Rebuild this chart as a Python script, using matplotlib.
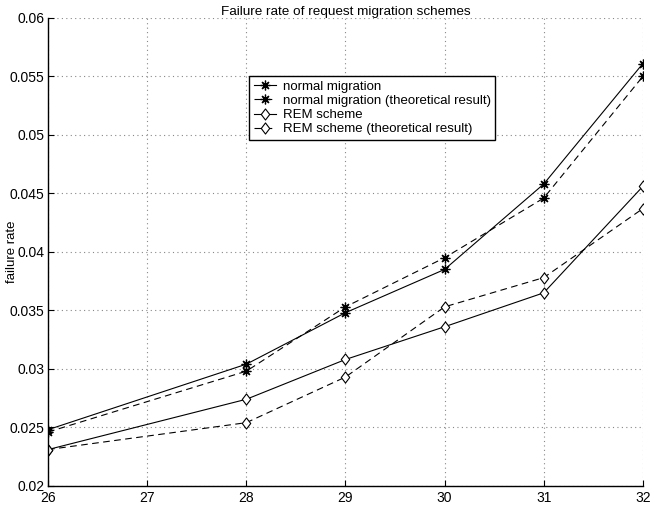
import matplotlib
matplotlib.use("Agg")
import matplotlib.pyplot as plt
from matplotlib.path import Path

plt.rcParams['font.family'] = ['Liberation Sans', 'DejaVu Sans']

x = [26, 28, 29, 30, 31, 32]
normal = [0.0248, 0.0304, 0.0348, 0.0385, 0.0458, 0.0561]
normal_theory = [0.0246, 0.0298, 0.0353, 0.0395, 0.0446, 0.0550]
rem = [0.0231, 0.0274, 0.0308, 0.0336, 0.0365, 0.0456]
rem_theory = [0.0231, 0.0254, 0.0293, 0.0353, 0.0378, 0.0437]

xticks = [26, 27, 28, 29, 30, 31, 32]
yticks = [0.02, 0.025, 0.03, 0.035, 0.04, 0.045, 0.05, 0.055, 0.06]
ytick_labels = ['0.02', '0.025', '0.03', '0.035', '0.04', '0.045', '0.05', '0.055', '0.06']

title = 'Failure rate of request migration schemes'
ylabel = 'failure rate'
labels = ['normal migration', 'normal migration (theoretical result)',
          'REM scheme', 'REM scheme (theoretical result)']

fig = plt.figure(figsize=(6.5, 5.13), dpi=100)
ax = fig.add_axes([0.074, 0.053, 0.915, 0.912])

star = (8, 2, 0)
diamond = Path([(0, 1), (0.76, 0), (0, -1), (-0.76, 0), (0, 1)],
               [Path.MOVETO, Path.LINETO, Path.LINETO, Path.LINETO, Path.CLOSEPOLY])
dash = (0, (6, 4))
lw = 0.8
ax.plot(x, normal, color='black', lw=lw, marker=star, ms=7, mew=0.9, label=labels[0])
ax.plot(x, normal_theory, color='black', lw=lw, ls=dash, marker=star, ms=7, mew=0.9, label=labels[1])
ax.plot(x, rem, color='black', lw=lw, marker=diamond, ms=8, mfc='white', mew=0.8, label=labels[2])
ax.plot(x, rem_theory, color='black', lw=lw, ls=dash, marker=diamond, ms=8, mfc='white', mew=0.8, label=labels[3])

ax.set_xlim(26, 32)
ax.set_ylim(0.02, 0.06)
ax.set_xticks(xticks)
ax.set_xticklabels([str(t) for t in xticks], fontsize=10)
ax.set_yticks(yticks)
ax.set_yticklabels(ytick_labels, fontsize=10)
ax.tick_params(direction='in', length=4, width=0.8, pad=2.5)
ax.tick_params(axis='x', pad=3.5)
ax.grid(True, color='#888888', ls=(0, (1, 3)), lw=0.8)
ax.spines['top'].set_visible(False)
ax.spines['right'].set_visible(False)
ax.spines['left'].set_linewidth(1.0)
ax.spines['bottom'].set_linewidth(1.0)

ax.set_title(title, fontsize=9.7, pad=1)
ax.set_ylabel(ylabel, fontsize=9.5)
ax.yaxis.set_label_coords(-0.05, 0.5)

leg = ax.legend(loc='upper left', bbox_to_anchor=(0.338, 0.876), fontsize=9.5,
                frameon=True, fancybox=False, edgecolor='black', framealpha=1,
                borderpad=0.35, labelspacing=0.15, handlelength=1.7, handletextpad=0.5,
                borderaxespad=0)
leg.get_frame().set_linewidth(1.0)

fig.savefig('out.png', dpi=100)
